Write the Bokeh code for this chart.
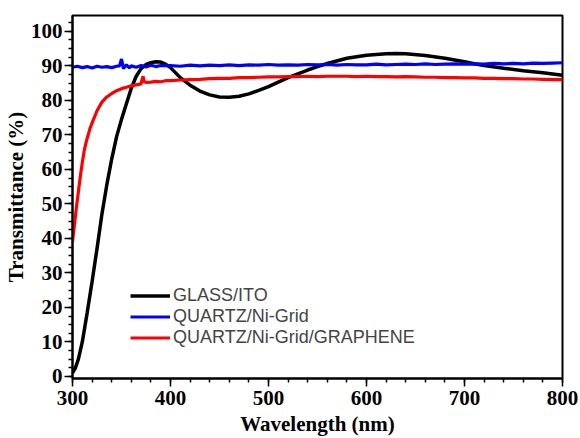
from bokeh.plotting import figure
from bokeh.models import Range1d, Legend, LegendItem, FixedTicker
from bokeh.embed import file_html
from bokeh.resources import INLINE

# GLASS/ITO
ito_wl = [300, 303, 306, 310, 315, 320, 325, 330, 335, 340, 345, 350, 355, 360, 365, 370, 375, 380, 385, 390,
          395, 400, 410, 420, 430, 440, 450, 460, 470, 480, 490, 500, 520, 540, 550, 560, 580, 600, 620, 630,
          640, 660, 680, 700, 710, 720, 740, 760, 780, 800]
ito_t = [1.0, 2.5, 5.0, 10.0, 18.5, 27.5, 37.0, 47.0, 55.5, 63.0, 69.5, 74.5, 79.0, 83.5, 87.0, 89.2, 90.4, 90.9, 91.2, 91.1,
         90.5, 89.5, 86.6, 84.4, 82.7, 81.6, 81.0, 80.9, 81.2, 81.9, 82.9, 84.0, 86.6, 88.8, 89.8, 90.7, 92.2, 93.1, 93.5, 93.6,
         93.5, 93.0, 92.2, 91.2, 90.6, 90.1, 89.3, 88.6, 88.0, 87.3]

# QUARTZ/Ni-Grid
ni_wl = [300, 305, 310, 315, 320, 325, 330, 335, 340, 345, 348, 350, 352, 355, 358, 360, 365, 370, 375, 380,
         385, 390, 400, 410, 420, 430, 440, 450, 460, 470, 480, 490, 500, 510, 520, 530, 540, 550, 560, 570,
         580, 590, 600, 610, 620, 630, 640, 650, 660, 670, 680, 690, 700, 710, 720, 730, 740, 750, 760, 770,
         780, 790, 800]
ni_t = [89.6, 89.9, 89.5, 89.8, 89.4, 89.9, 89.6, 89.8, 89.5, 89.9, 90.0, 92.0, 89.2, 90.3, 89.4, 90.0, 89.6, 90.1, 89.7, 90.2,
        89.8, 90.1, 90.1, 89.9, 90.2, 90.0, 90.2, 90.1, 90.3, 90.1, 90.3, 90.2, 90.4, 90.2, 90.3, 90.2, 90.4, 90.3, 90.4, 90.2,
        90.4, 90.3, 90.3, 90.5, 90.3, 90.4, 90.5, 90.4, 90.6, 90.4, 90.5, 90.6, 90.5, 90.6, 90.5, 90.7, 90.6, 90.7, 90.6, 90.8,
        90.7, 90.8, 90.9]

# QUARTZ/Ni-Grid/GRAPHENE
gr_wl = [300, 302, 304, 306, 308, 310, 312, 314, 316, 318, 320, 325, 330, 335, 340, 345, 350, 355, 360, 365,
         370, 371, 372, 373, 375, 380, 385, 390, 395, 400, 410, 420, 430, 440, 450, 460, 470, 480, 490, 500,
         510, 520, 530, 540, 550, 560, 570, 580, 590, 600, 610, 620, 630, 640, 650, 660, 670, 680, 690, 700,
         710, 720, 730, 740, 750, 760, 770, 780, 790, 800]
gr_t = [39.0, 44.0, 49.0, 53.5, 58.0, 62.0, 65.5, 68.0, 70.0, 72.0, 73.5, 77.0, 79.5, 81.0, 82.0, 82.8, 83.4, 83.8, 84.2, 84.5,
        84.8, 86.0, 87.0, 85.5, 85.2, 85.3, 85.5, 85.4, 85.7, 85.7, 85.9, 86.0, 86.1, 86.3, 86.4, 86.4, 86.6, 86.6, 86.7, 86.8,
        86.8, 86.9, 86.9, 87.0, 86.9, 87.0, 87.0, 87.0, 86.9, 87.0, 86.9, 86.9, 86.8, 86.9, 86.8, 86.7, 86.7, 86.6, 86.6, 86.5,
        86.5, 86.4, 86.4, 86.3, 86.3, 86.2, 86.2, 86.1, 86.0, 86.0]

labels = ["GLASS/ITO", "QUARTZ/Ni-Grid", "QUARTZ/Ni-Grid/GRAPHENE"]
x_ticks = [300, 400, 500, 600, 700, 800]
y_ticks = [0, 10, 20, 30, 40, 50, 60, 70, 80, 90, 100]
x_title = "Wavelength (nm)"
y_title = "Transmittance (%)"

p = figure(width=580, height=438, output_backend="svg", toolbar_location=None,
           x_range=Range1d(300, 800), y_range=Range1d(-0.6, 104.6),
           min_border_left=72, min_border_right=18, min_border_top=15, min_border_bottom=60)
p.background_fill_color = "white"
p.border_fill_color = "white"
p.xgrid.visible = False
p.ygrid.visible = False
p.outline_line_color = "black"
p.outline_line_width = 2
p.outline_line_alpha = 1

r1 = p.line(ito_wl, ito_t, line_color="black", line_width=3.5)
r2 = p.line(ni_wl, ni_t, line_color="#0000ff", line_width=3.2)
r3 = p.line(gr_wl, gr_t, line_color="#ff0000", line_width=3.2)

for ax in (p.xaxis[0], p.yaxis[0]):
    ax.axis_line_width = 2
    ax.axis_line_color = "black"
    ax.major_tick_line_width = 1.5
    ax.minor_tick_line_width = 1.5
    ax.major_tick_out = 8
    ax.major_tick_in = 0
    ax.minor_tick_out = 4
    ax.minor_tick_in = 0
    ax.major_label_text_font = "Liberation Serif"
    ax.major_label_text_font_style = "bold"
    ax.major_label_text_font_size = "21px"
    ax.major_label_text_color = "black"
    ax.axis_label_text_font = "Liberation Serif"
    ax.axis_label_text_font_style = "bold"
    ax.axis_label_text_font_size = "21px"
    ax.axis_label_text_color = "black"

p.xaxis[0].major_label_standoff = 4
p.xaxis[0].axis_label_standoff = 4
p.yaxis[0].major_label_standoff = 2
p.yaxis[0].axis_label_standoff = 0

p.xaxis[0].ticker = FixedTicker(ticks=x_ticks, minor_ticks=list(range(300, 801, 20)))
p.yaxis[0].ticker = FixedTicker(ticks=y_ticks, minor_ticks=[v * 2.5 for v in range(0, 42)])
p.xaxis[0].axis_label = x_title
p.yaxis[0].axis_label = y_title

legend = Legend(items=[LegendItem(label=labels[0], renderers=[r1]),
                       LegendItem(label=labels[1], renderers=[r2]),
                       LegendItem(label=labels[2], renderers=[r3])],
                location=(58, 30), border_line_color=None, background_fill_alpha=0,
                label_text_font="Liberation Sans", label_text_font_size="18px",
                label_height=21, glyph_width=40, glyph_height=21, label_standoff=3,
                spacing=0, padding=0, margin=0)
p.add_layout(legend)

open("out.html", "w").write(file_html(p, INLINE))
